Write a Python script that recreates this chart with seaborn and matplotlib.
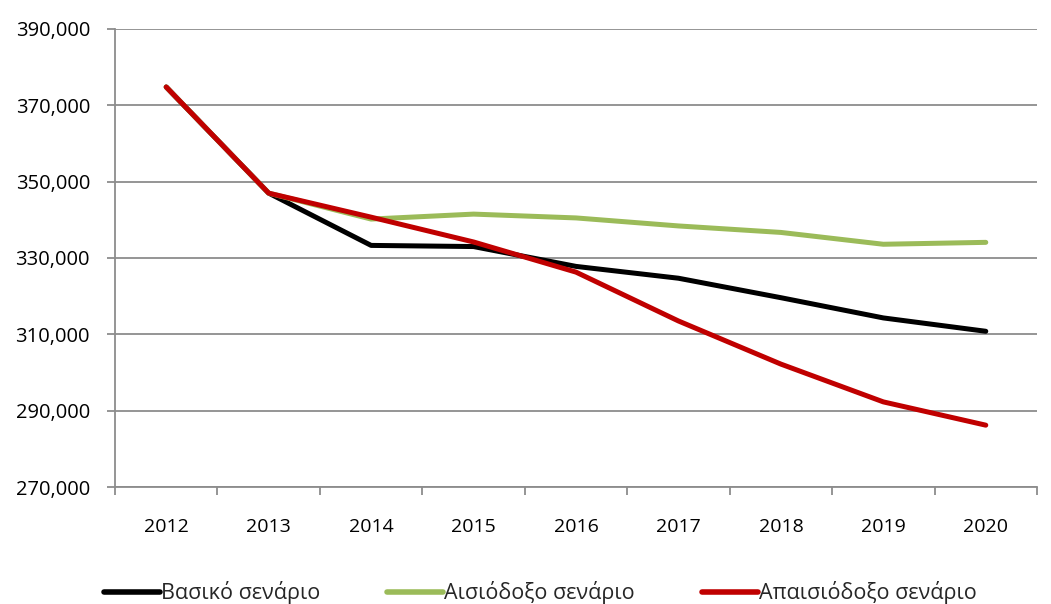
import matplotlib
matplotlib.use("Agg")
import matplotlib.pyplot as plt
import seaborn as sns
import pandas as pd
import numpy as np
from matplotlib.ticker import FuncFormatter, FixedLocator

years = ["2012", "2013", "2014", "2015", "2016", "2017", "2018", "2019", "2020"]
basic = [374800, 347000, 333300, 333000, 327800, 324700, 319600, 314300, 310800]
optimistic = [374800, 347000, 340200, 341500, 340500, 338400, 336700, 333600, 334100]
pessimistic = [374800, 347000, 340700, 334200, 326300, 313500, 302200, 292300, 286200]
series_names = ["Βασικό σενάριο", "Αισιόδοξο σενάριο", "Απαισιόδοξο σενάριο"]
colors = ["#000000", "#9BBB59", "#C00000"]

rows = []
for name, vals in zip(series_names, [basic, optimistic, pessimistic]):
    for i, (y, v) in enumerate(zip(years, vals)):
        rows.append({"idx": i, "year": y, "value": v, "series": name})
df = pd.DataFrame(rows)

sns.set_theme(style="white")
plt.rcParams["font.family"] = ["Open Sans", "DejaVu Sans"]

fig = plt.figure(figsize=(10.51, 6.04), dpi=100)
ax = fig.add_axes([115/1051, 1-487/604, (1037-115)/1051, (487-29)/604])

sns.lineplot(data=df, x="idx", y="value", hue="series", hue_order=series_names,
             palette=colors, linewidth=3.6, ax=ax, sort=False, legend=True)
for ln in ax.lines:
    ln.set_solid_capstyle("round")
    ln.set_solid_joinstyle("round")

ax.set_xlim(-0.5, len(years) - 0.5)
ax.set_ylim(270000, 390000)
ax.set_yticks(np.arange(270000, 390001, 20000))
ax.yaxis.set_major_formatter(FuncFormatter(lambda v, p: f"{int(v):,}"))
ax.yaxis.grid(True, color="#8c8c8c", linewidth=1.3)
ax.set_axisbelow(True)

ax.set_xticks(range(len(years)))
ax.set_xticklabels(years)
ax.xaxis.set_minor_locator(FixedLocator(np.arange(-0.5, len(years), 1.0)))
ax.tick_params(axis="x", which="major", length=0, pad=22, labelsize=14, colors="black")
ax.tick_params(axis="x", which="minor", length=6, width=1.3, color="#8c8c8c", direction="out", bottom=True)
ax.tick_params(axis="y", which="major", length=6, width=1.3, color="#8c8c8c", direction="out", left=True, labelsize=14.5, pad=12, labelcolor="black")

for s in ["top", "right"]:
    ax.spines[s].set_visible(False)
for s in ["left", "bottom"]:
    ax.spines[s].set_color("#8c8c8c")
    ax.spines[s].set_linewidth(1.3)

ax.set_xlabel("")
ax.set_ylabel("")

handles, labels = ax.get_legend_handles_labels()
for h in handles:
    h.set_linewidth(4)
ax.legend(handles, labels, loc="center", bbox_to_anchor=(0.514, (604-593)/604), bbox_transform=fig.transFigure,
          ncol=3, frameon=False, fontsize=15.5, handlelength=2.6, handletextpad=0.05, columnspacing=3.1)

fig.savefig("out.png", dpi=100)
